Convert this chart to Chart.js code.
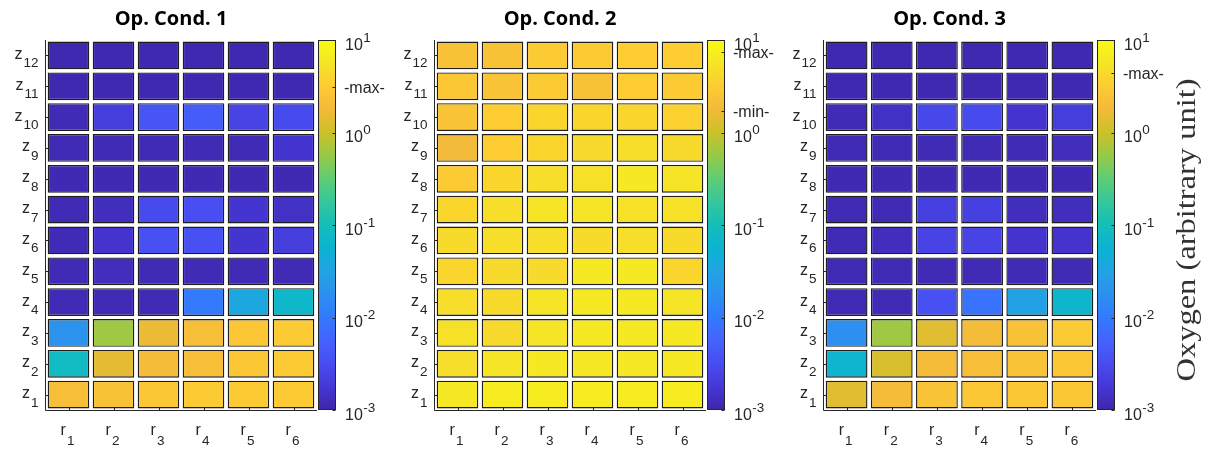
<!DOCTYPE html>
<html>
<head>
<meta charset="utf-8">
<script src="https://cdn.jsdelivr.net/npm/chart.js@4/dist/chart.umd.min.js"></script>
<style>
html,body{margin:0;padding:0;background:#fff;}
#wrap{position:relative;width:1212px;height:450px;overflow:hidden;background:#fff;}
#wrap canvas{position:absolute;left:0;top:0;}
</style>
</head>
<body>
<div id="wrap">
<canvas id="c1" width="1212" height="450"></canvas>
<canvas id="c2" width="1212" height="450"></canvas>
<canvas id="c3" width="1212" height="450"></canvas>
</div>
<script>
// ---------- data ----------
const colLabels = ['r_1','r_2','r_3','r_4','r_5','r_6'];
const rowLabels = ['z_1','z_2','z_3','z_4','z_5','z_6','z_7','z_8','z_9','z_10','z_11','z_12'];
const panelTitles = ['Op. Cond. 1','Op. Cond. 2','Op. Cond. 3'];
const cbTickValues = [0.001, 0.01, 0.1, 1, 10];
const cbTickBase = '10';
const cbTickExponents = ['-3','-2','-1','0','1'];
const colorbarLabel = 'Oxygen (arbitrary unit)';

// oxygen values, rows z1..z12, columns r1..r6
const cond1 = [
  [2.1, 2.3, 2.75, 3.0, 3.0, 3.0],
  [0.083, 1.45, 1.9, 2.1, 2.75, 3.0],
  [0.019, 0.63, 1.58, 2.1, 2.75, 3.0],
  [0.0012, 0.0012, 0.0012, 0.01, 0.036, 0.069],
  [0.0012, 0.0013, 0.0012, 0.0012, 0.0012, 0.0012],
  [0.0012, 0.0016, 0.0036, 0.0036, 0.0017, 0.0021],
  [0.0012, 0.0013, 0.003, 0.0033, 0.0017, 0.00145],
  [0.00115, 0.00115, 0.00115, 0.00115, 0.00115, 0.00115],
  [0.0012, 0.0012, 0.0012, 0.0012, 0.0012, 0.0017],
  [0.0012, 0.0021, 0.004, 0.0048, 0.0025, 0.003],
  [0.0011, 0.0011, 0.0011, 0.0011, 0.0011, 0.0011],
  [0.0011, 0.0011, 0.0011, 0.0011, 0.0011, 0.0011]
];
const cond2 = [
  [6.3, 6.9, 6.9, 6.9, 6.9, 6.9],
  [4.8, 5.75, 6.3, 6.3, 6.3, 6.3],
  [5.2, 4.4, 5.75, 6.3, 6.3, 6.3],
  [4.8, 4.4, 5.75, 6.3, 6.3, 5.75],
  [4.0, 4.4, 4.4, 6.3, 6.3, 4.0],
  [4.4, 4.8, 4.8, 4.4, 4.8, 4.4],
  [4.0, 4.8, 5.75, 5.75, 5.2, 5.2],
  [3.0, 4.0, 4.8, 5.2, 6.3, 5.75],
  [1.74, 3.3, 4.0, 4.4, 4.8, 4.4],
  [2.5, 3.3, 4.0, 4.0, 4.0, 3.6],
  [2.75, 2.5, 3.0, 2.3, 3.3, 3.0],
  [2.3, 2.3, 3.0, 3.0, 3.3, 3.3]
];
const cond3 = [
  [1.38, 1.9, 2.5, 2.75, 2.75, 2.75],
  [0.063, 1.2, 1.9, 2.1, 2.5, 2.75],
  [0.017, 0.63, 1.38, 1.9, 2.3, 3.0],
  [0.0012, 0.0012, 0.0036, 0.0083, 0.03, 0.063],
  [0.0012, 0.0012, 0.0012, 0.0012, 0.0012, 0.0012],
  [0.0012, 0.0013, 0.0025, 0.0025, 0.0016, 0.0016],
  [0.0012, 0.0012, 0.0023, 0.0023, 0.0013, 0.0013],
  [0.00115, 0.00115, 0.00115, 0.00115, 0.00115, 0.00115],
  [0.0012, 0.0012, 0.0012, 0.0012, 0.0012, 0.0013],
  [0.0012, 0.00145, 0.0028, 0.003, 0.0017, 0.0021],
  [0.0011, 0.0011, 0.0011, 0.0011, 0.0011, 0.0011],
  [0.0011, 0.0011, 0.0011, 0.0011, 0.0011, 0.0011]
];
const cond1Marks = [['-max-', 3.08]];
const cond2Marks = [['-max-', 7.36], ['-min-', 1.72]];
const cond3Marks = [['-max-', 4.36]];

// ---------- parula colormap ----------
const PARULA = [
  [0.2422,0.1504,0.6603],[0.2704,0.2138,0.8346],[0.2813,0.2985,0.9397],[0.2710,0.3860,0.9898],
  [0.2006,0.4803,0.9906],[0.1716,0.5655,0.9393],[0.1288,0.6408,0.8910],[0.0433,0.7039,0.8242],
  [0.0770,0.7468,0.7224],[0.2061,0.7808,0.6065],[0.3671,0.8021,0.4563],[0.5886,0.7913,0.2833],
  [0.7945,0.7554,0.1570],[0.9523,0.7284,0.2237],[0.9938,0.7974,0.1974],[0.9601,0.8963,0.1507],
  [0.9769,0.9839,0.0805]
];
function rgbStr(c){ return 'rgb(' + c.map(v => Math.round(v*255)).join(',') + ')'; }
function parulaAt(t){
  t = Math.max(0, Math.min(1, t));
  const n = PARULA.length - 1;
  const f = t * n;
  const i = Math.min(n - 1, Math.floor(f));
  const u = f - i;
  const a = PARULA[i], b = PARULA[i+1];
  return rgbStr([0,1,2].map(k => a[k] + (b[k]-a[k]) * u));
}
function colorFor(v){ return parulaAt((Math.log10(v) + 3) / 4); }

// ---------- drawing helpers ----------
const TXT = '#262626';
const MAIN_FONT = '16px "Liberation Sans", Arial, sans-serif';
const SMALL_FONT = '13.5px "Liberation Sans", Arial, sans-serif';

function drawSubLabel(ctx, label, anchorX, align, baseY, subY){
  const parts = label.split('_');
  ctx.font = MAIN_FONT; const w1 = ctx.measureText(parts[0]).width;
  ctx.font = SMALL_FONT; const w2 = ctx.measureText(parts[1]).width;
  const gap = 1;
  const total = w1 + gap + w2;
  let x0 = align === 'right' ? anchorX - total : anchorX - total/2;
  ctx.textAlign = 'left'; ctx.textBaseline = 'alphabetic'; ctx.fillStyle = TXT;
  ctx.font = MAIN_FONT; ctx.fillText(parts[0], x0, baseY);
  ctx.font = SMALL_FONT; ctx.fillText(parts[1], x0 + w1 + gap, subY);
}

const decor = {
  id: 'decor',
  afterDatasetsDraw(chart, args, opts){
    const {ctx, chartArea: ca, scales} = chart;
    const xs = scales.x, ys = scales.y, cb = scales.cb;
    ctx.save();
    // axes lines
    ctx.strokeStyle = TXT; ctx.lineWidth = 1;
    ctx.beginPath();
    ctx.moveTo(ca.left - 0.5, ca.top);
    ctx.lineTo(ca.left - 0.5, ca.bottom + 0.5);
    ctx.lineTo(ca.right + 1, ca.bottom + 0.5);
    ctx.stroke();
    // small inward ticks
    ctx.beginPath();
    rowLabels.forEach((lab, k) => {
      const yc = Math.round(ys.getPixelForValue(k + 1)) + 0.5;
      ctx.moveTo(ca.left, yc); ctx.lineTo(ca.left + 2.5, yc);
    });
    colLabels.forEach((lab, i) => {
      const xc = Math.round(xs.getPixelForValue(i)) + 0.5;
      ctx.moveTo(xc, ca.bottom); ctx.lineTo(xc, ca.bottom - 2.5);
    });
    ctx.stroke();
    // tick labels
    rowLabels.forEach((lab, k) => {
      const yc = ys.getPixelForValue(k + 1);
      drawSubLabel(ctx, lab, ca.left - 7.5, 'right', yc + 3.5, yc + 12);
    });
    colLabels.forEach((lab, i) => {
      const xc = xs.getPixelForValue(i);
      drawSubLabel(ctx, lab, xc - 1, 'center', ca.bottom + 25, ca.bottom + 35);
    });
    // title
    ctx.font = 'bold 20px "Open Sans", sans-serif';
    ctx.fillStyle = '#000'; ctx.textAlign = 'center'; ctx.textBaseline = 'alphabetic';
    ctx.fillText(opts.title, (ca.left + ca.right) / 2 - 10, 25);
    // colorbar
    const cbL = ca.right + 2, cbW = 18, cbR = cbL + cbW;
    const yTop = cb.getPixelForValue(cbTickValues[cbTickValues.length - 1]);
    const yBot = cb.getPixelForValue(cbTickValues[0]);
    const g = ctx.createLinearGradient(0, yBot, 0, yTop);
    PARULA.forEach((c, i) => g.addColorStop(i / (PARULA.length - 1), rgbStr(c)));
    ctx.fillStyle = g;
    ctx.fillRect(cbL, yTop, cbW, yBot - yTop);
    ctx.strokeStyle = TXT; ctx.lineWidth = 1;
    ctx.strokeRect(cbL + 0.5, yTop + 0.5, cbW - 1, yBot - yTop - 1);
    const tickYs = cbTickValues.map(v => cb.getPixelForValue(v));
    const markYs = opts.marks.map(m => cb.getPixelForValue(m[1]));
    ctx.beginPath();
    tickYs.concat(markYs).forEach(ty => {
      const yy = Math.round(ty) + 0.5;
      ctx.moveTo(cbR - 0.5, yy); ctx.lineTo(cbR - 3.5, yy);
    });
    ctx.stroke();
    ctx.fillStyle = TXT; ctx.textAlign = 'left'; ctx.textBaseline = 'alphabetic';
    tickYs.forEach((ty, i) => {
      ctx.font = MAIN_FONT;
      const bx = cbR + 9;
      ctx.fillText(cbTickBase, bx, ty + 9.5);
      const bw = ctx.measureText(cbTickBase).width;
      ctx.font = SMALL_FONT;
      ctx.fillText(cbTickExponents[i], bx + bw + 0.5, ty + 1.5);
    });
    ctx.font = MAIN_FONT;
    opts.marks.forEach((m, i) => {
      ctx.fillText(m[0], cbR + 8, markYs[i] + 6);
    });
    // colorbar label
    if (opts.ylabel) {
      ctx.save();
      ctx.translate(1195, 230);
      ctx.rotate(-Math.PI / 2);
      ctx.font = '28px "Liberation Serif", "Times New Roman", serif';
      const w = ctx.measureText(opts.ylabel).width;
      ctx.scale(Math.min(1.16, 320 / w), 1);
      ctx.fillStyle = '#333'; ctx.textAlign = 'center';
      ctx.fillText(opts.ylabel, 0, 0);
      ctx.restore();
    }
    ctx.restore();
  }
};

function makePanel(id, title, values, marks, left, right, ylabel){
  const datasets = rowLabels.map((lab, k) => ({
    label: lab,
    data: values[k].map(() => [k + 1 - 0.45, k + 1 + 0.45]),
    backgroundColor: values[k].map(colorFor),
    borderColor: '#1e1e1e',
    borderWidth: 1.4,
    borderSkipped: false,
    grouped: false,
    barPercentage: 0.925,
    categoryPercentage: 1
  }));
  return new Chart(document.getElementById(id), {
    type: 'bar',
    data: { labels: colLabels, datasets },
    options: {
      responsive: false,
      animation: false,
      events: [],
      layout: { padding: { left: left, right: 1212 - right, top: 40, bottom: 40 } },
      plugins: {
        legend: { display: false },
        tooltip: { enabled: false },
        decor: { title, marks, ylabel }
      },
      scales: {
        x: { type: 'category', display: false, offset: true },
        y: { type: 'linear', display: false, min: 0.5, max: 12.5 },
        cb: { type: 'logarithmic', axis: 'y', position: 'right', display: false,
              min: cbTickValues[0], max: cbTickValues[cbTickValues.length - 1] }
      }
    },
    plugins: [decor]
  });
}

makePanel('c1', panelTitles[0], cond1, cond1Marks, 46, 316, null);
makePanel('c2', panelTitles[1], cond2, cond2Marks, 435, 705, null);
makePanel('c3', panelTitles[2], cond3, cond3Marks, 824, 1095, colorbarLabel);
</script>
</body>
</html>
